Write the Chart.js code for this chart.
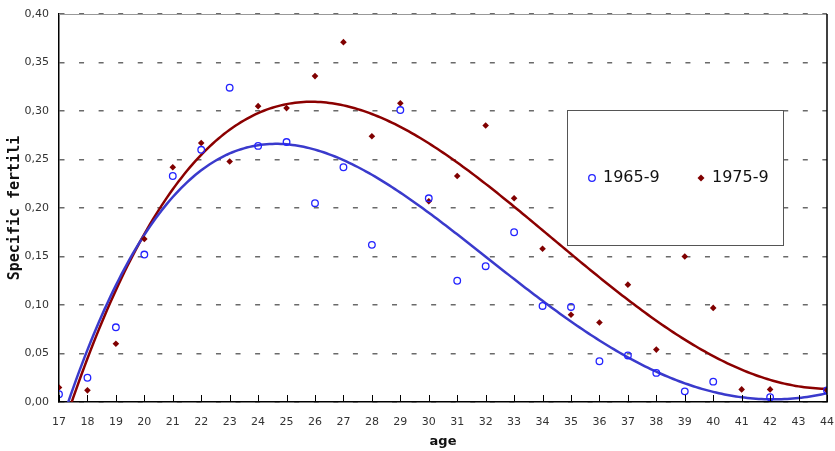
<!DOCTYPE html>
<html>
<head>
<meta charset="utf-8">
<script src="https://cdn.jsdelivr.net/npm/chart.js@4"></script>
<style>
  html, body { margin: 0; padding: 0; background: #fff; }
  #wrap { width: 835px; height: 451px; }
</style>
</head>
<body>
<div id="wrap"><canvas id="fertilityChart"></canvas></div>
<script>
// values (null = no mark drawn at that age)
const ages = [17, 18, 19, 20, 21, 22, 23, 24, 25, 26, 27, 28, 29, 30,
              31, 32, 33, 34, 35, 36, 37, 38, 39, 40, 41, 42, 43, 44];
const rate1965 = [0.008, 0.025, 0.077, 0.152, 0.233, 0.260, 0.324, 0.264, 0.268, 0.205,
                  0.242, 0.162, 0.301, 0.210, 0.125, 0.140, 0.175, 0.099, 0.098, 0.042,
                  0.048, 0.030, 0.011, 0.021, null, 0.005, null, 0.012];
const rate1975 = [0.015, 0.012, 0.060, 0.168, 0.242, 0.267, 0.248, 0.305, 0.303, 0.336,
                  0.371, 0.274, 0.308, 0.207, 0.233, 0.285, 0.210, 0.158, 0.090, 0.082,
                  0.121, 0.054, 0.150, 0.097, 0.013, 0.013, null, 0.012];
const seriesNames = ['1965-9', '1975-9'];
const yTicks = [0, 0.05, 0.10, 0.15, 0.20, 0.25, 0.30, 0.35, 0.40];

// least squares polynomial (4th degree) through the points; empty ages count as zero
function polyFit(xs, ys, deg) {
  const n = deg + 1, A = [], b = new Array(n).fill(0);
  for (let i = 0; i < n; i++) A.push(new Array(n).fill(0));
  xs.forEach((x, k) => {
    const y = ys[k] === null ? 0 : ys[k];
    const t = (x - 30) / 10, p = [];
    for (let i = 0; i < n; i++) p.push(Math.pow(t, i));
    for (let i = 0; i < n; i++) {
      b[i] += p[i] * y;
      for (let j = 0; j < n; j++) A[i][j] += p[i] * p[j];
    }
  });
  for (let c = 0; c < n; c++) {
    let m = c;
    for (let r = c + 1; r < n; r++) if (Math.abs(A[r][c]) > Math.abs(A[m][c])) m = r;
    [A[c], A[m]] = [A[m], A[c]]; [b[c], b[m]] = [b[m], b[c]];
    for (let r = 0; r < n; r++) {
      if (r === c) continue;
      const f = A[r][c] / A[c][c];
      for (let j = c; j < n; j++) A[r][j] -= f * A[c][j];
      b[r] -= f * b[c];
    }
  }
  const k = b.map((v, i) => v / A[i][i]);
  return x => {
    const t = (x - 30) / 10;
    let s = 0;
    for (let i = 0; i < n; i++) s += k[i] * Math.pow(t, i);
    return s;
  };
}

function curve(ys) {
  const f = polyFit(ages, ys, 4), pts = [];
  const lo = ages[0], hi = ages[ages.length - 1];
  for (let i = 0; i <= 270; i++) {
    const a = lo + i * (hi - lo) / 270;
    pts.push({ x: a, y: f(a) });
  }
  return pts;
}
const toPoints = ys => ages.map((a, i) => ({ x: a, y: ys[i] })).filter(p => p.y !== null);

// box legend inside the plot, plus frame lines and inner x ticks
const framePlugin = {
  id: 'frame',
  afterDatasetsDraw(chart) {
    const { ctx, chartArea: ca, scales } = chart;
    ctx.save();
    ctx.strokeStyle = '#999';
    ctx.lineWidth = 1;
    ctx.beginPath(); ctx.moveTo(ca.left, ca.top + 0.5); ctx.lineTo(ca.right, ca.top + 0.5); ctx.stroke();
    ctx.strokeStyle = '#000';
    ctx.lineWidth = 1.5;
    ctx.beginPath(); ctx.moveTo(ca.right, ca.top); ctx.lineTo(ca.right, ca.bottom); ctx.stroke();
    ctx.lineWidth = 1;
    ages.forEach(a => {
      const x = Math.round(scales.x.getPixelForValue(a)) + 0.5;
      ctx.beginPath(); ctx.moveTo(x, ca.bottom - 7); ctx.lineTo(x, ca.bottom); ctx.stroke();
    });

    // legend box
    const bx = 567, by = 110, bw = 216, bh = 135;
    ctx.fillStyle = '#fff';
    ctx.fillRect(bx, by, bw, bh);
    ctx.strokeStyle = '#555';
    ctx.strokeRect(bx + 0.5, by + 0.5, bw, bh);
    const cy = 178;
    ctx.font = '16px "DejaVu Sans"';
    ctx.textBaseline = 'middle';
    ctx.fillStyle = '#111';
    ctx.strokeStyle = '#2323ff';
    ctx.lineWidth = 1.3;
    ctx.beginPath(); ctx.arc(592, cy, 3.3, 0, Math.PI * 2); ctx.stroke();
    ctx.fillText(seriesNames[0], 603, cy);
    ctx.fillStyle = '#800000';
    ctx.beginPath();
    ctx.moveTo(701, cy - 3.5); ctx.lineTo(704.5, cy); ctx.lineTo(701, cy + 3.5); ctx.lineTo(697.5, cy);
    ctx.closePath(); ctx.fill();
    ctx.fillStyle = '#111';
    ctx.fillText(seriesNames[1], 712, cy);
    ctx.restore();
  }
};

new Chart(document.getElementById('fertilityChart'), {
  type: 'scatter',
  data: {
    datasets: [
      {
        label: seriesNames[0],
        data: toPoints(rate1965),
        pointStyle: 'circle',
        pointRadius: 3.3,
        pointBorderWidth: 1.3,
        pointBorderColor: '#2323ff',
        pointBackgroundColor: 'rgba(255,255,255,0)'
      },
      {
        label: seriesNames[1],
        data: toPoints(rate1975),
        pointStyle: 'rectRot',
        pointRadius: 3.3,
        pointBorderWidth: 0,
        pointBorderColor: '#800000',
        pointBackgroundColor: '#800000'
      },
      {
        label: 'fit ' + seriesNames[0],
        data: curve(rate1965),
        showLine: true,
        pointRadius: 0,
        borderColor: '#3a3acc',
        borderWidth: 2.5,
        tension: 0
      },
      {
        label: 'fit ' + seriesNames[1],
        data: curve(rate1975),
        showLine: true,
        pointRadius: 0,
        borderColor: '#8b0000',
        borderWidth: 2.5,
        tension: 0
      }
    ]
  },
  options: {
    responsive: true,
    maintainAspectRatio: false,
    animation: false,
    layout: { padding: { top: 14, right: 8, left: 0, bottom: 0 } },
    plugins: { legend: { display: false }, tooltip: { enabled: false } },
    scales: {
      x: {
        type: 'linear',
        min: 17,
        max: 44,
        afterFit: s => { s.height = 49; s.paddingLeft = 0; s.paddingRight = 0; },
        afterBuildTicks: s => { s.ticks = ages.map(v => ({ value: v })); },
        grid: { display: false, drawTicks: false },
        border: { display: true, color: '#000', width: 1.5 },
        ticks: {
          padding: 14,
          color: '#333',
          font: { family: 'DejaVu Sans', size: 11 },
          maxRotation: 0,
          autoSkip: false
        },
        title: {
          display: true,
          text: 'age',
          color: '#111',
          font: { family: 'DejaVu Sans', size: 13, weight: 'bold' },
          padding: { top: 0, bottom: 2 }
        }
      },
      y: {
        min: 0,
        max: 0.4,
        afterFit: s => { s.width = 59; s.paddingTop = 0; s.paddingBottom = 0; },
        afterBuildTicks: s => { s.ticks = yTicks.map(v => ({ value: v })); },
        grid: { color: '#6a6a6a', lineWidth: 1.5, drawTicks: false },
        border: { display: true, color: '#000', width: 1.5, dash: [5, 14.56] },
        ticks: {
          padding: 10,
          color: '#333',
          font: { family: 'DejaVu Sans', size: 11 },
          callback: v => v.toFixed(2).replace('.', ',')
        },
        title: {
          display: true,
          text: 'Specific fertili',
          color: '#111',
          font: { family: 'DejaVu Sans Mono', size: 15, weight: 'bold' },
          padding: { top: 6, bottom: 0 }
        }
      }
    }
  },
  plugins: [framePlugin]
});
</script>
</body>
</html>
